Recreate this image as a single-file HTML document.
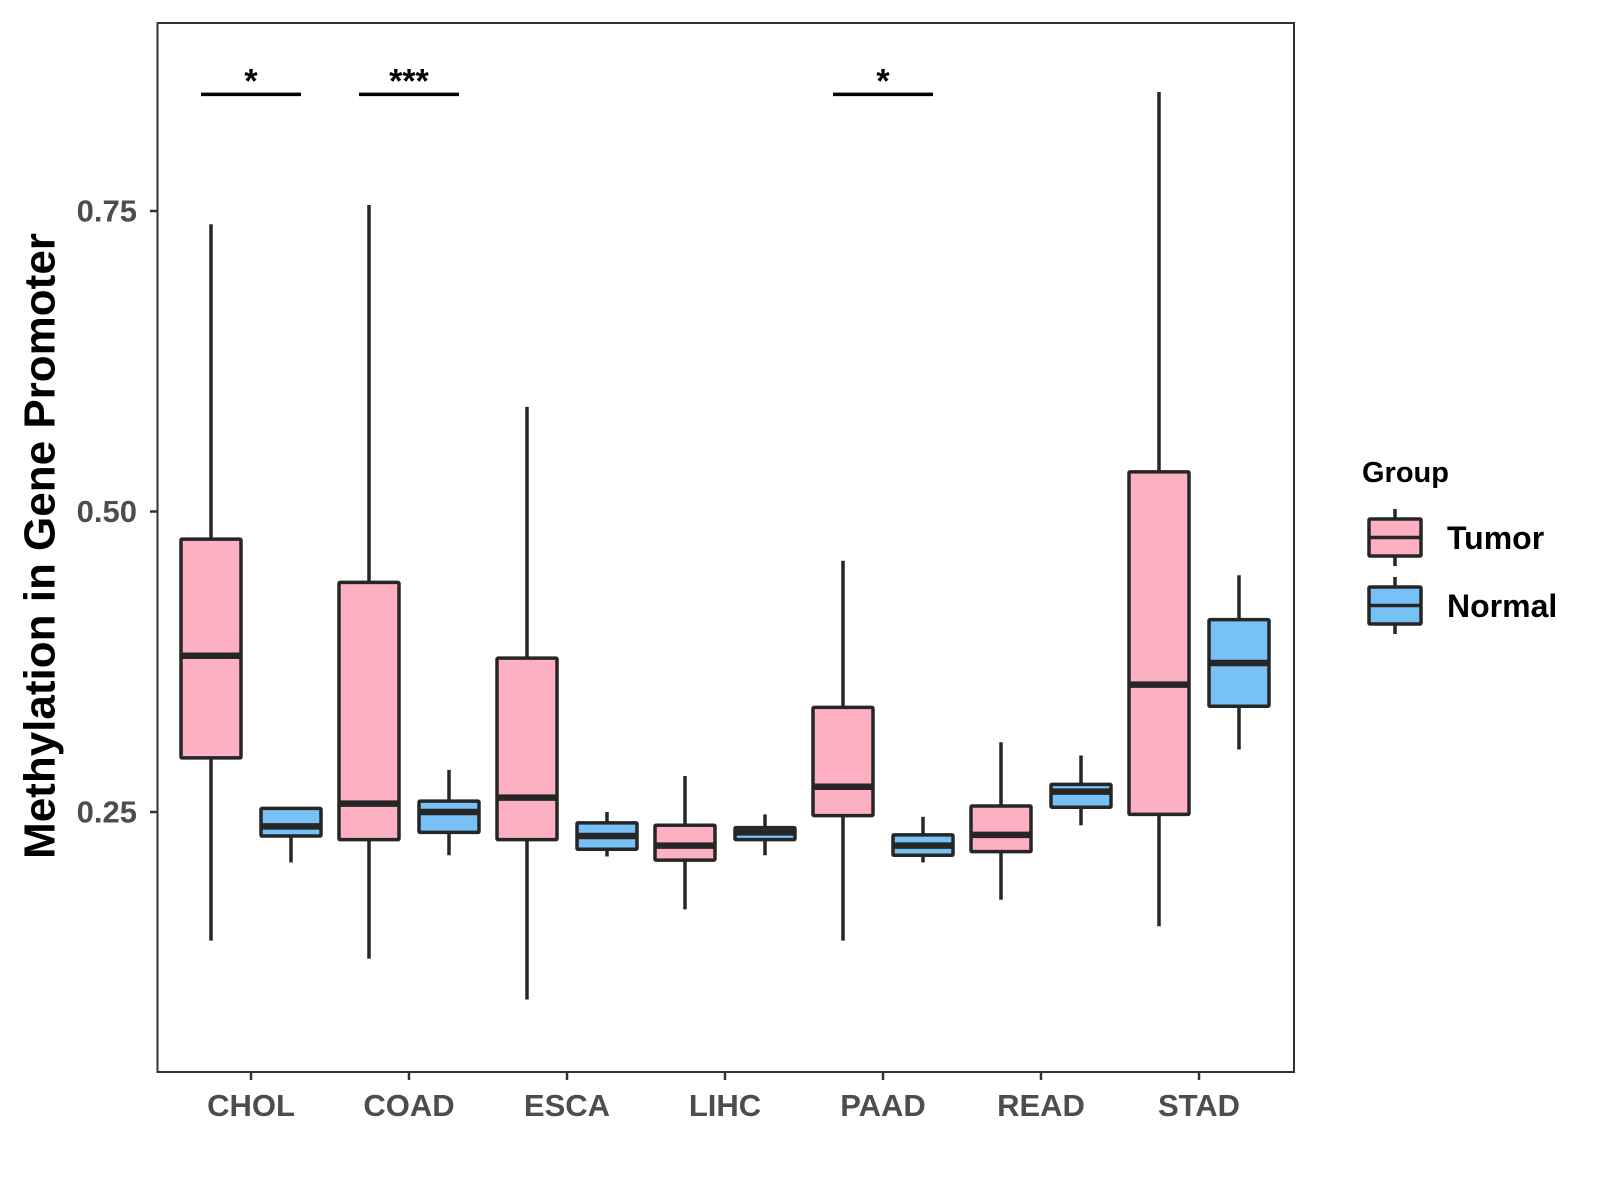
<!DOCTYPE html>
<html><head><meta charset="utf-8"><style>
html,body{margin:0;padding:0;background:#fff;}
svg{display:block;font-family:"Liberation Sans",Arial,sans-serif;}
</style></head><body>
<svg id="chart" width="1600" height="1200" viewBox="0 0 1600 1200">
<rect x="0" y="0" width="1600" height="1200" fill="#fff"/>
<g id="marks"></g>
<rect x="157.5" y="23" width="1136.5" height="1049" fill="none" stroke="#333" stroke-width="2"/>
<g id="axes"></g>
<text x="40" y="546" transform="rotate(-90 40 546)" text-anchor="middle" dominant-baseline="central" font-size="44" font-weight="bold" fill="#000">Methylation in Gene Promoter</text>
<g id="legend">
<text x="1362" y="482" font-size="29" font-weight="bold" fill="#000">Group</text>
</g>
</svg>
<script>
const categories = ["CHOL","COAD","ESCA","LIHC","PAAD","READ","STAD"];
const groups = ["Tumor","Normal"];
// [lowWhisker, Q1, median, Q3, highWhisker]
const tumorStats = [
 [0.143,0.295,0.380,0.477,0.739],
 [0.128,0.227,0.257,0.441,0.755],
 [0.094,0.227,0.262,0.378,0.587],
 [0.169,0.210,0.222,0.239,0.280],
 [0.143,0.247,0.271,0.337,0.459],
 [0.177,0.217,0.231,0.255,0.308],
 [0.155,0.248,0.356,0.533,0.849]
];
const normalStats = [
 [0.208,0.230,0.238,0.253,0.254],
 [0.214,0.233,0.250,0.259,0.285],
 [0.213,0.219,0.230,0.241,0.250],
 [0.214,0.227,0.233,0.237,0.248],
 [0.208,0.214,0.222,0.231,0.246],
 [0.239,0.254,0.267,0.273,0.297],
 [0.302,0.338,0.374,0.410,0.447]
];
const yTicks = [0.25,0.50,0.75];
const yTickLabels = ["0.25","0.50","0.75"];
const sigCategories = ["CHOL","COAD","PAAD"];
const sigLabels = ["*","***","*"];
const sigLevel = 0.847;

const NS="http://www.w3.org/2000/svg";
const colors = {Tumor:"#FCB0C2", Normal:"#77C1F7"};
function yScale(v){ return 812 - (v-0.25)*1202; }
function xScale(cat){ return 251 + categories.indexOf(cat)*158; }
function mk(tag, attrs, parent){ const e=document.createElementNS(NS,tag); for(const k in attrs) e.setAttribute(k,attrs[k]); parent.appendChild(e); return e; }

const marks=document.getElementById('marks');
const axes=document.getElementById('axes');
const legend=document.getElementById('legend');
const halfW=30, dodge=40;
function drawBox(cx, s, fill, name){
  const g=mk('g',{},marks);
  
  
  mk('line',{x1:cx,x2:cx,y1:yScale(s[4]),y2:yScale(s[0]),stroke:"#262626","stroke-width":3.5},g);
  mk('rect',{x:cx-halfW,y:yScale(s[3]),width:2*halfW,height:Math.max(yScale(s[1])-yScale(s[3]),1),fill:fill,stroke:"#262626","stroke-width":3.5,rx:1},g);
  mk('line',{x1:cx-halfW,x2:cx+halfW,y1:yScale(s[2]),y2:yScale(s[2]),stroke:"#262626","stroke-width":6.5},g);
}
categories.forEach((c,i)=>{
  drawBox(xScale(c)-dodge, tumorStats[i], colors.Tumor, 'box-tumor-'+c.toLowerCase());
  drawBox(xScale(c)+dodge, normalStats[i], colors.Normal, 'box-normal-'+c.toLowerCase());
});
sigCategories.forEach((c,i)=>{
  const cx=xScale(c), y=yScale(sigLevel);
  const l=mk('line',{x1:cx-50,x2:cx+50,y1:y,y2:y,stroke:"#000","stroke-width":3.5},marks);
  
  
  const t=mk('text',{x:cx,y:y-2,"text-anchor":"middle","font-size":34,"font-weight":"bold",fill:"#000"},marks);
  t.textContent=sigLabels[i];
  
  
});
yTicks.forEach((v,i)=>{
  const y=yScale(v);
  mk('line',{x1:150,x2:157.5,y1:y,y2:y,stroke:"#333","stroke-width":2.5},axes);
  const t=mk('text',{x:137,y:y,"text-anchor":"end","dominant-baseline":"central","font-size":31,"font-weight":"bold",fill:"#4d4d4d"},axes);
  t.textContent=yTickLabels[i];
  
  
});
categories.forEach(c=>{
  const x=xScale(c);
  mk('line',{x1:x,x2:x,y1:1072,y2:1080,stroke:"#333","stroke-width":2.5},axes);
  const t=mk('text',{x:x,y:1116,"text-anchor":"middle","font-size":31,"font-weight":"bold",fill:"#4d4d4d"},axes);
  t.textContent=c;
  
  
});
groups.forEach((gname,i)=>{
  const top=519+i*68, bot=556+i*68, mid=(top+bot)/2;
  const g=mk('g',{},legend);
  
  
  mk('line',{x1:1395,x2:1395,y1:top-10,y2:bot+10,stroke:"#262626","stroke-width":3.5},g);
  mk('rect',{x:1369,y:top,width:52,height:bot-top,fill:colors[gname],stroke:"#262626","stroke-width":3.5,rx:1},g);
  mk('line',{x1:1369,x2:1421,y1:mid,y2:mid,stroke:"#262626","stroke-width":3.5},g);
  const t=mk('text',{x:1447,y:549+i*68,"font-size":32,"font-weight":"bold",fill:"#000"},g);
  t.textContent=gname;
});
</script>
</body></html>
